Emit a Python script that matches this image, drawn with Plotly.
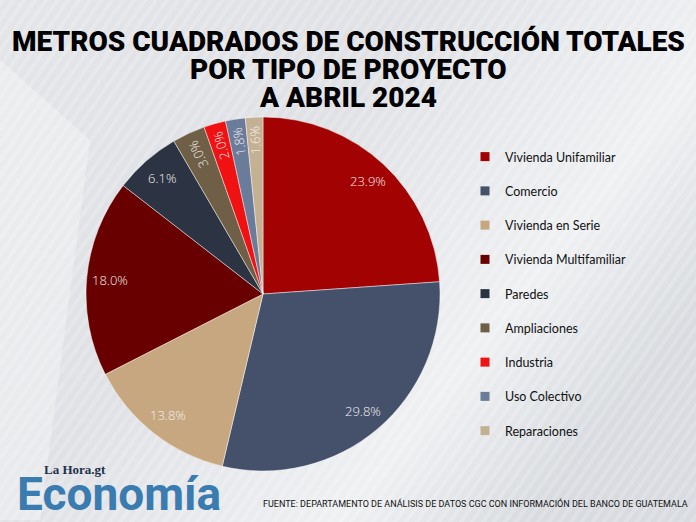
import math
import base64
import plotly.graph_objects as go

# ---------------- data ----------------
categories = ["Vivienda Unifamiliar", "Comercio", "Vivienda en Serie",
              "Vivienda Multifamiliar", "Paredes", "Ampliaciones",
              "Industria", "Uso Colectivo", "Reparaciones"]
values = [23.9, 29.8, 13.8, 18.0, 6.1, 3.0, 2.0, 1.8, 1.6]
colors = ["#A30202", "#45516B", "#C6A77F", "#680000", "#2C3444",
          "#6F5F46", "#F01212", "#6B7B9A", "#C4B193"]
rotated_labels = [False, False, False, False, False, True, True, True, True]

title_lines = ["METROS CUADRADOS DE CONSTRUCCIÓN TOTALES",
               "POR TIPO DE PROYECTO", "A ABRIL 2024"]
source_text = "FUENTE: DEPARTAMENTO DE ANÁLISIS DE DATOS CGC CON INFORMACIÓN DEL BANCO DE GUATEMALA"

# ---------------- layout constants ----------------
W, H = 696, 522
CX, CY, R = 263, 294, 177          # pie centre / radius in pixels
LABEL_R = 0.87
TITLE_Y = [41, 69, 97]             # centre of each title line (px from top)

# background image (gradient)
svg = f'''<svg xmlns="http://www.w3.org/2000/svg" width="{W}" height="{H}">
<defs>
<linearGradient id="g" x1="0" y1="0" x2="1" y2="0.6">
<stop offset="0" stop-color="#E3E5E8"/>
<stop offset="0.45" stop-color="#DFE1E5"/>
<stop offset="0.8" stop-color="#EEF0F2"/>
<stop offset="1" stop-color="#D8DBDF"/>
</linearGradient>
<pattern id="p" width="9" height="9" patternUnits="userSpaceOnUse" patternTransform="rotate(35)">
<rect width="4" height="9" fill="#FFFFFF" fill-opacity="0.18"/>
</pattern>
</defs>
<rect width="{W}" height="{H}" fill="url(#g)"/>
<rect width="{W}" height="{H}" fill="url(#p)"/>
<polygon points="0,60 90,140 40,520 0,520" fill="#FFFFFF" fill-opacity="0.3"/>
</svg>'''
bg_src = "data:image/svg+xml;base64," + base64.b64encode(svg.encode()).decode()

fig = go.Figure()

fig.add_trace(go.Pie(
    labels=categories, values=values, sort=False, direction="clockwise",
    rotation=0, textinfo="none", hoverinfo="label+percent",
    marker=dict(colors=colors, line=dict(color="rgba(255,255,255,0.45)", width=1)),
    showlegend=False,
    domain=dict(x=[(CX - R) / W, (CX + R) / W],
                y=[1 - (CY + R) / H, 1 - (CY - R) / H]),
))

# legend via marker-only scatter traces
for i, (c, col) in enumerate(zip(categories, colors)):
    fig.add_trace(go.Scatter(
        x=[None], y=[None], mode="markers", name=c, legendgroup=f"g{i}",
        marker=dict(symbol="square", size=9, color=col),
    ))

# slice labels
annotations = []
total = sum(values)
cum = 0.0
for v, rot in zip(values, rotated_labels):
    theta = 360.0 * (cum + v / 2) / total
    cum += v
    t = math.radians(theta)
    px = CX + LABEL_R * R * math.sin(t)
    py = CY - LABEL_R * R * math.cos(t)
    annotations.append(dict(
        x=px / W, y=1 - py / H, xref="paper", yref="paper",
        text=f"{v:.1f}%", showarrow=False,
        textangle=(theta - 450) if rot else 0,
        font=dict(family="Open Sans, Lato, sans-serif", size=13,
                  color="#F5F0F0", weight=300),
        xanchor="center", yanchor="middle",
    ))

# title (one annotation per line for tight line spacing)
for line, ty in zip(title_lines, TITLE_Y):
    annotations.append(dict(
        x=348 / W, y=1 - ty / H, xref="paper", yref="paper",
        text=line, showarrow=False, xanchor="center", yanchor="middle",
        font=dict(family="Roboto, sans-serif", size=28, color="#000000", weight=900),
    ))

# source
annotations.append(dict(
    x=690 / W, y=1 - 503 / H, xref="paper", yref="paper", text=source_text,
    showarrow=False, xanchor="right", yanchor="middle",
    font=dict(family="Liberation Sans Narrow, Roboto, sans-serif",
              size=9, color="#111111"),
))

# logo
annotations.append(dict(
    x=42 / W, y=1 - 469 / H, xref="paper", yref="paper", text="<b>La Hora.gt</b>",
    showarrow=False, xanchor="left", yanchor="middle",
    font=dict(family="Liberation Serif, serif", size=13, color="#22304A"),
))
annotations.append(dict(
    x=15 / W, y=1 - 494 / H, xref="paper", yref="paper", text="<b>Economía</b>",
    showarrow=False, xanchor="left", yanchor="middle",
    font=dict(family="Roboto, sans-serif", size=46, color="#3A7BB0"),
))

fig.update_layout(
    width=W, height=H, margin=dict(l=0, r=0, t=0, b=0),
    paper_bgcolor="#E4E6E9", plot_bgcolor="rgba(0,0,0,0)",
    xaxis=dict(visible=False), yaxis=dict(visible=False),
    showlegend=True,
    legend=dict(x=465 / W, y=1 - 142 / H, xanchor="left", yanchor="top",
                bgcolor="rgba(0,0,0,0)", tracegroupgap=15, itemwidth=30,
                font=dict(family="Lato, Open Sans, sans-serif", size=12.5, color="#111111")),
    annotations=annotations,
    images=[dict(source=bg_src, xref="paper", yref="paper", x=0, y=1,
                 sizex=1, sizey=1, sizing="stretch", layer="below")],
)

fig.write_html("out.html", config={"displayModeBar": False},
               post_script="document.body.style.margin='0';")
